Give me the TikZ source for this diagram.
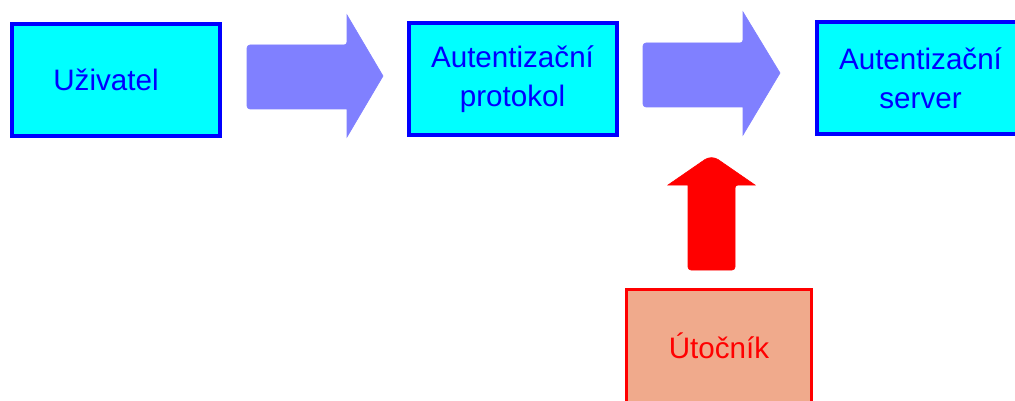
\documentclass[tikz,border=0pt]{standalone}
\usepackage{fontspec}
\setmainfont{Liberation Sans}
\definecolor{boxblue}{RGB}{0,0,255}
\definecolor{boxcyan}{RGB}{0,255,255}
\definecolor{flowarrow}{RGB}{128,128,255}
\definecolor{attackred}{RGB}{255,0,0}
\definecolor{attackfill}{RGB}{240,170,140}
\tikzset{
  stage/.style={draw=boxblue, fill=boxcyan, line width=4pt, text=boxblue,
    minimum width=208pt, minimum height=112pt, inner sep=0pt, align=center,
    font=\fontsize{29.6}{39}\selectfont},
  attacker/.style={draw=attackred, fill=attackfill, line width=3pt, text=attackred,
    minimum width=185pt, minimum height=113pt, inner sep=0pt,
    font=\fontsize{29.6}{39}\selectfont},
  flow/.style={fill=flowarrow, draw=flowarrow, line width=0.6pt, rounded corners=3pt},
  attack/.style={fill=attackred, draw=attackred, line width=0.6pt}
}
\begin{document}
\begin{tikzpicture}[x=1pt, y=-1pt]
  \useasboundingbox (0,0) rectangle (1015,401);
  \clip (0,0) rectangle (1015,401);
  \fill[white] (0,0) rectangle (1015,401);

  % stages of the authentication chain
  \node[stage] (user) at (116,80) {\hspace*{-20pt}Uživatel};
  \node[stage] (proto) at (512.5,79) {Autentizační\\protokol};
  \node[stage] (server) at (920.5,78.5) {Autentizační\\server};
  \node[attacker] (attacker) at (719,346) {Útočník};

  % block arrows between the stages
  \path[flow] (247,45) -- (347,45) [sharp corners] -- (347,15) -- (383,76)
    -- (347,137) -- (347,109) [rounded corners=3pt] -- (247,109) -- cycle;
  \path[flow] (643,43) -- (743,43) [sharp corners] -- (743,12) -- (780,73)
    -- (743,135) -- (743,107) [rounded corners=3pt] -- (643,107) -- cycle;

  % attack on the protocol
  \path[attack] (735,270) [rounded corners=3pt] -- (735,185) [sharp corners]
    -- (755,185) [rounded corners=8pt] -- (711.5,155) [sharp corners]
    -- (668,185) -- (688,185) [rounded corners=3pt] -- (688,270) -- cycle;
\end{tikzpicture}
\end{document}
